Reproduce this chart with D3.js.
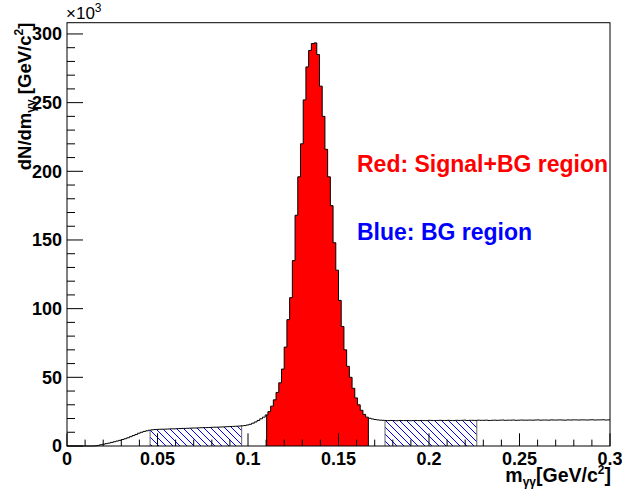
<!DOCTYPE html>
<html><head><meta charset="utf-8">
<script src="https://cdn.jsdelivr.net/npm/d3@7"></script>
<style>html,body{margin:0;padding:0;background:#fff;} svg{display:block;}</style>
</head><body>
<svg id="c" width="622" height="498"></svg>
<script>
// ---- data (counts in units of 10^3) ----
const xMin = 0, xMax = 0.3, binWidth = 0.0015;
const counts = [
 0,0,0,0,0,0,0,0,0,0,
 0.1,0.4,0.9,1.3,1.7,2.1,2.6,3.1,3.6,4.1,
 4.7,5.3,6.0,6.8,7.6,8.4,9.3,10.0,10.6,11.1,
 11.5,11.8,12.0,12.1,12.2,12.2,12.3,12.4,12.5,12.5,
 12.6,12.7,12.8,12.8,12.9,13.0,13.1,13.1,13.2,13.3,
 13.4,13.4,13.5,13.6,13.7,13.7,13.8,13.9,14.0,14.1,
 14.2,14.3,14.4,14.5,14.7,14.9,15.3,15.8,16.6,17.5,
 18.6,19.8,21.0,22.6,25.0,29.0,33.6,39.0,46.0,56.0,
 72,92,108,135,168,196,220,252,276,288,
 293,293.5,285,262,240,216,196,175,148,128,
 106,87,70,58,50,42,35,30,26,23,
 21.0,20.2,19.7,19.3,19.0,18.8,18.7,18.6,18.5,18.6,
 18.5,18.4,18.6,18.5,18.5,18.6,18.4,18.5,18.6,18.5,
 18.6,18.5,18.5,18.7,18.6,18.5,18.6,18.7,18.6,18.6,
 18.7,18.6,18.5,18.7,18.6,18.7,18.8,18.6,18.7,18.7,
 18.6,18.8,18.7,18.7,18.8,18.6,18.7,18.8,18.7,18.8,
 18.9,18.7,18.8,18.8,18.9,18.7,18.8,18.9,18.8,18.8,
 18.9,18.8,18.9,19.0,18.8,18.9,18.9,18.8,19.0,18.9,
 18.9,19.0,18.9,18.8,19.0,18.9,19.0,19.0,18.9,19.0,
 19.0,18.9,19.0,19.1,18.9,19.0,19.0,19.1,18.9,19.0
];
const yMax = 308.2;
const xTickLabels = ["0","0.05","0.1","0.15","0.2","0.25","0.3"];
const xMajorTicks = [0,0.05,0.1,0.15,0.2,0.25,0.3];
const yTickLabels = ["0","50","100","150","200","250","300"];
const yMajorTicks = [0,50,100,150,200,250,300];
const signalRegion = [0.1103, 0.1665];
const bgRegions = [[0.0459, 0.0965],[0.1757, 0.2264]];
const legendLines = [
  {text:"Red: Signal+BG region", color:"#ff0000"},
  {text:"Blue: BG region", color:"#0000ff"}
];

// ---- layout ----
const L = 67, R = 610, T = 22.7, B = 446;
const svg = d3.select("#c");
const x = d3.scaleLinear().domain([xMin, xMax]).range([L, R]);
const y = d3.scaleLinear().domain([0, yMax]).range([B, T]);

const pts = counts.map((v,i)=>[xMin + i*binWidth, v]);
pts.push([xMin + counts.length*binWidth, counts[counts.length-1]]);
const valueAt = xv => counts[Math.min(counts.length-1, Math.max(0, Math.floor((xv - xMin)/binWidth)))];

const defs = svg.append("defs");
const pat = defs.append("pattern").attr("id","hatch").attr("patternUnits","userSpaceOnUse")
  .attr("width",7).attr("height",7);
pat.append("path").attr("d","M0,0L7,7M-1,6L1,8M6,-1L8,1").attr("stroke","#0000ff").attr("stroke-width",1);

const area = d3.area().curve(d3.curveStepAfter).x(d=>x(d[0])).y0(y(0)).y1(d=>y(d[1]));
const line = d3.line().curve(d3.curveStepAfter).x(d=>x(d[0])).y(d=>y(d[1]));

function region(r, fill, edge, id){
  defs.append("clipPath").attr("id",id).append("rect")
    .attr("x",x(r[0])).attr("y",T).attr("width",x(r[1])-x(r[0])).attr("height",B-T);
  svg.append("path").attr("d",area(pts)).attr("fill",fill).attr("clip-path",`url(#${id})`);
  r.forEach(xv=>{
    svg.append("line").attr("x1",x(xv)).attr("x2",x(xv)).attr("y1",y(0)).attr("y2",y(valueAt(xv)))
      .attr("stroke",edge).attr("stroke-width",1);
  });
}
region(signalRegion, "#ff0000", "#000", "clipS");
bgRegions.forEach((r,i)=>region(r, "url(#hatch)", "#666", "clipB"+i));

svg.append("path").attr("d",line(pts)).attr("fill","none").attr("stroke","#000").attr("stroke-width",1);

// frame
svg.append("rect").attr("x",L).attr("y",T).attr("width",R-L).attr("height",B-T)
  .attr("fill","none").attr("stroke","#000").attr("stroke-width",1);

const font = "Liberation Sans, Arial, sans-serif";
// x ticks
const xMinor = d3.range(0, 31).map(k=>k*0.01);
const gx = svg.append("g");
xMinor.forEach(t=>{
  const major = xMajorTicks.some(m=>Math.abs(m-t)<1e-9);
  gx.append("line").attr("x1",x(t)).attr("x2",x(t)).attr("y1",B).attr("y2",B-(major?12.7:6.4))
    .attr("stroke","#000").attr("stroke-width",1);
});
xMajorTicks.forEach((t,i)=>{
  gx.append("text").attr("x",x(t)).attr("y",B+18.5).attr("text-anchor","middle")
    .attr("font-family",font).attr("font-weight","bold")
    .attr("font-size",18).text(xTickLabels[i]);
});
// y ticks
const yMinor = d3.range(0, 31).map(k=>k*10);
const gy = svg.append("g");
yMinor.forEach(t=>{
  const major = yMajorTicks.includes(t);
  gy.append("line").attr("x1",L).attr("x2",L+(major?16:8)).attr("y1",y(t)).attr("y2",y(t))
    .attr("stroke","#000").attr("stroke-width",1);
});
yMajorTicks.forEach((t,i)=>{
  gy.append("text").attr("x",L-5).attr("y",y(t)).attr("dy","0.36em").attr("text-anchor","end")
    .attr("font-family",font).attr("font-weight","bold")
    .attr("font-size",18).text(yTickLabels[i]);
});

// exponent
const ex = svg.append("text").attr("x",66).attr("y",19)
  .attr("font-family",font).attr("font-size",17);
ex.append("tspan").text("\u00d710");
ex.append("tspan").attr("dy",-7).attr("font-size",12).text("3");

// axis titles
const xt = svg.append("text").attr("x",R+1).attr("y",482).attr("text-anchor","end")
  .attr("font-family",font).attr("font-weight","bold").attr("font-size",19.5);
xt.append("tspan").text("m");
xt.append("tspan").attr("dy",4).attr("font-size",12).text("\u03b3\u03b3");
xt.append("tspan").attr("dy",-4).text("[GeV/c");
xt.append("tspan").attr("dy",-8).attr("font-size",12).text("2");
xt.append("tspan").attr("dy",8).text("]");

const yt = svg.append("text").attr("transform",`translate(31,${T}) rotate(-90)`).attr("text-anchor","end")
  .attr("font-family",font).attr("font-weight","bold").attr("font-size",18.5);
yt.append("tspan").text("dN/dm");
yt.append("tspan").attr("dy",4).attr("font-size",12).text("\u03b3\u03b3");
yt.append("tspan").attr("dy",-4).text(" [GeV/c");
yt.append("tspan").attr("dy",-8).attr("font-size",12).text("2");
yt.append("tspan").attr("dy",8).text("]");

// legend texts
legendLines.forEach((d,i)=>{
  svg.append("text").attr("x",357).attr("y",172 + i*68)
    .attr("font-family",font).attr("font-weight","bold").attr("font-size",23)
    .attr("fill",d.color).text(d.text);
});
</script>
</body></html>
